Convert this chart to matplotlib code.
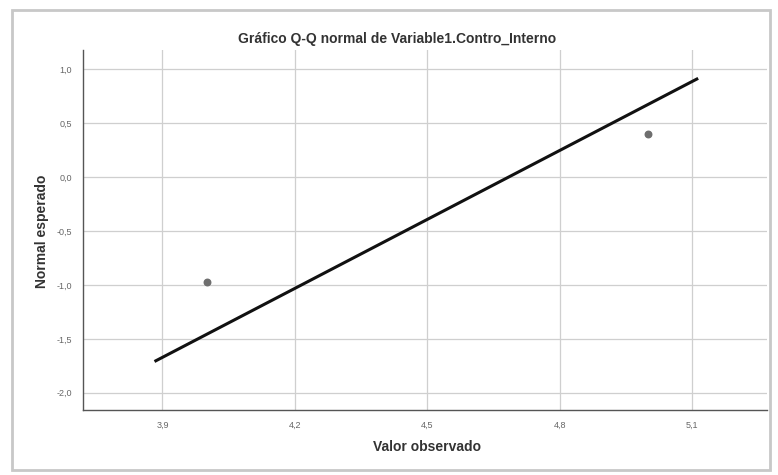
import matplotlib
matplotlib.use("Agg")
import matplotlib.pyplot as plt
from matplotlib.patches import Rectangle

plt.rcParams["font.family"] = ["Liberation Sans", "DejaVu Sans"]

# Data
obs_x = [4.0, 5.0]
obs_y = [-0.97, 0.40]
line_x = [3.882, 5.114]
line_y = [-1.71, 0.917]
xticks = [3.9, 4.2, 4.5, 4.8, 5.1]
yticks = [1.0, 0.5, 0.0, -0.5, -1.0, -1.5, -2.0]
title = "Gráfico Q-Q normal de Variable1.Contro_Interno"
xlabel = "Valor observado"
ylabel = "Normal esperado"

def fmt(v):
    return f"{v:.1f}".replace(".", ",")

W, H = 778, 475
fig = plt.figure(figsize=(W / 100, H / 100), dpi=100)
fig.patch.set_facecolor("white")

# frame / shadow of the pasted image
fig.add_artist(Rectangle((12 / W, 1 - 470 / H), (770 - 12) / W, (470 - 10) / H,
                         transform=fig.transFigure, facecolor="white",
                         edgecolor="#c8c8c8", linewidth=2.0, zorder=0))

ax = fig.add_axes([83 / W, 1 - 410 / H, (767 - 83) / W, (410 - 50) / H])
ax.set_xlim(3.72, 5.27)
ax.set_ylim(-2.16, 1.18)

ax.grid(True, color="#cfcfcf", linewidth=0.9)
ax.set_axisbelow(True)

ax.plot(line_x, line_y, color="#111111", linewidth=2.2, solid_capstyle="butt", zorder=3)
ax.scatter(obs_x, obs_y, s=22, color="#6e6e6e", zorder=4)

ax.set_xticks(xticks)
ax.set_xticklabels([fmt(v) for v in xticks])
ax.set_yticks(yticks)
ax.set_yticklabels([fmt(v) for v in yticks])
ax.tick_params(axis="both", labelsize=6.5, colors="#666666", length=0, pad=8)

for side in ["top", "right"]:
    ax.spines[side].set_visible(False)
for side in ["left", "bottom"]:
    ax.spines[side].set_color("#555555")
    ax.spines[side].set_linewidth(1.0)

fig.text(397 / W, 1 - 39 / H, title, ha="center", va="center", fontsize=10,
         fontweight="bold", color="#333333")
fig.text(427 / W, 1 - 447 / H, xlabel, ha="center", va="center", fontsize=10,
         fontweight="bold", color="#333333")
fig.text(42 / W, 1 - 231 / H, ylabel, ha="center", va="center", rotation=90,
         fontsize=10, fontweight="bold", color="#333333")

fig.savefig("out.png", dpi=100)
